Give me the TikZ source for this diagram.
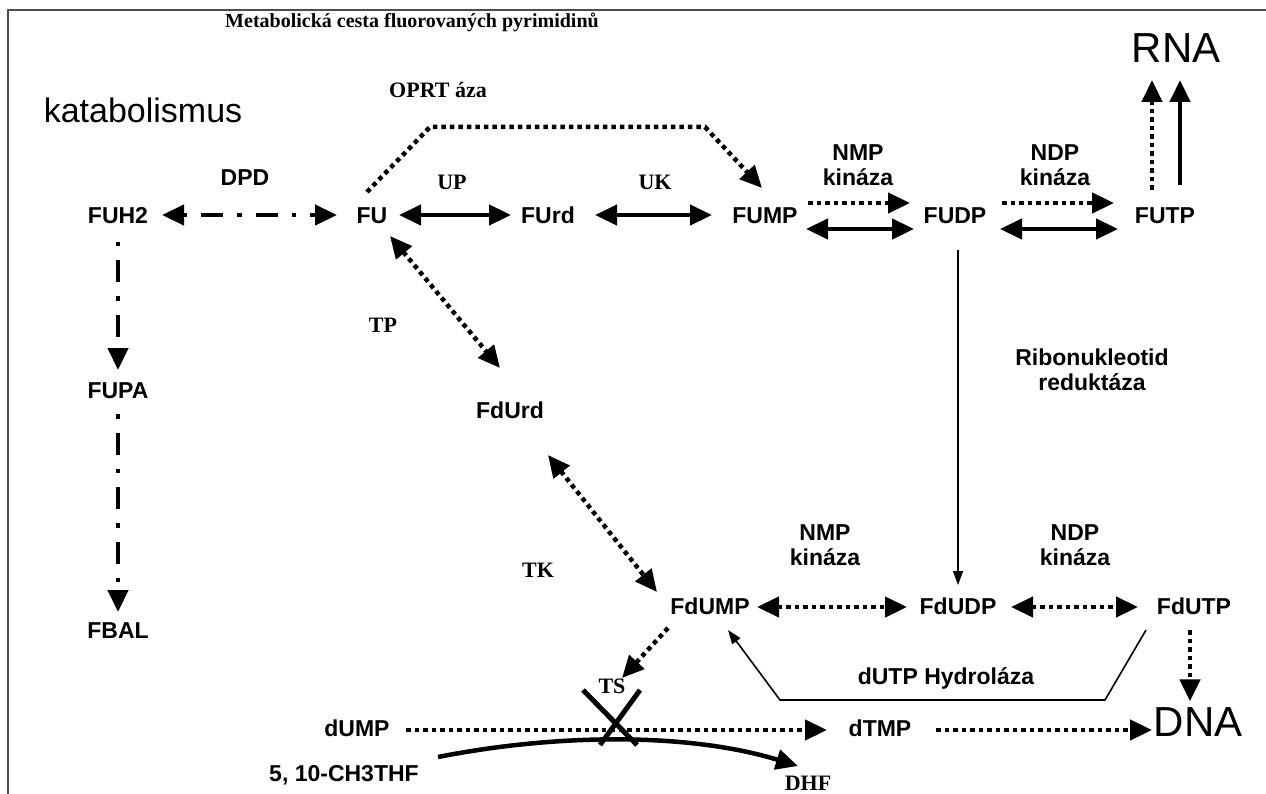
\documentclass[tikz,border=0pt]{standalone}
\usepackage{fontspec}
\setmainfont{Liberation Serif}
\newfontfamily\arialf{Liberation Sans}
\usetikzlibrary{arrows.meta}
\tikzset{
  lbl/.style={font=\arialf\bfseries\fontsize{23}{25}\selectfont, inner sep=1pt, align=center},
  cpd/.style={font=\arialf\bfseries\fontsize{23}{25}\selectfont, inner sep=1pt, text height=17pt, text depth=5pt},
  ser/.style={font=\bfseries\fontsize{22}{24}\selectfont, inner sep=1pt},
  big/.style={font=\arialf\fontsize{42}{44}\selectfont, inner sep=0pt},
  bigtip/.tip={Triangle[length=22pt,width=20pt]},
  smalltip/.tip={Triangle[length=14pt,width=10pt]},
  dotarr/.style={line width=4.5pt, dash pattern=on 4.5pt off 4pt},
  dasharr/.style={line width=4.5pt, dash pattern=on 4.5pt off 14pt on 22pt off 14pt},
  solid4/.style={line width=4.5pt},
  thinarr/.style={line width=1.6pt},
}
\begin{document}
\begin{tikzpicture}[x=1pt,y=-1pt]
\useasboundingbox (0,0) rectangle (1266,794);
\fill[white] (0,0) rectangle (1266,794);
\draw[black!70, line width=1.6pt] (1266,10) -- (8,10) -- (8,794);

% texts
\node[font=\bfseries\fontsize{20}{22}\selectfont] (title) at (412,22) {Metabolická cesta fluorovaných pyrimidinů};
\node[font=\arialf\fontsize{34}{37}\selectfont] (kat) at (143,110) {katabolismus};
\node[ser] (oprt) at (438,90) {OPRT áza};
\node[big] (RNA) at (1176,48) {RNA};
\node[lbl] (dpd) at (245,178) {DPD};
\node[ser] (up) at (452,182) {UP};
\node[ser] (uk) at (655,182) {UK};
\node[lbl] (nmp1) at (858,165) {NMP\\kináza};
\node[lbl] (ndp1) at (1055,165) {NDP\\kináza};
\node[ser] (tp) at (383,325) {TP};
\node[lbl] (rib) at (1092,370) {Ribonukleotid\\reduktáza};
\node[ser] (tk) at (538,570) {TK};
\node[lbl] (nmp2) at (825,545) {NMP\\kináza};
\node[lbl] (ndp2) at (1075,545) {NDP\\kináza};
\node[cpd] (hyd) at (946,678) {dUTP Hydroláza};
\node[ser] (ts) at (612,686) {TS};

% nodes
\node[cpd] (FUH2) at (118,218) {FUH2};
\node[cpd] (FU) at (372,218) {FU};
\node[cpd] (FUrd) at (548,218) {FUrd};
\node[cpd] (FUMP) at (765,218) {FUMP};
\node[cpd] (FUDP) at (955,218) {FUDP};
\node[cpd] (FUTP) at (1165,218) {FUTP};
\node[cpd] (FUPA) at (118,392) {FUPA};
\node[cpd] (FBAL) at (118,632) {FBAL};
\node[cpd] (FdUrd) at (510,412) {FdUrd};
\node[cpd] (FdUMP) at (710,608) {FdUMP};
\node[cpd] (FdUDP) at (958,608) {FdUDP};
\node[cpd] (FdUTP) at (1194,608) {FdUTP};
\node[cpd] (dUMP) at (357,730) {dUMP};
\node[cpd] (dTMP) at (880,730) {dTMP};
\node[big] (DNA) at (1198,722) {DNA};
\node[cpd] (THF) at (344,775) {5, 10-CH3THF};
\node[ser] (DHF) at (808,783) {DHF};

% catabolism
\draw[dasharr, bigtip-bigtip] ([shift={(44,-3)}]FUH2.center) -- ([shift={(-35,-3)}]FU.center);
\draw[dasharr, -bigtip] ([shift={(0,24)}]FUH2.center) -- ([shift={(0,-22)}]FUPA.center);
\draw[dasharr, -bigtip] ([shift={(0,22)}]FUPA.center) -- ([shift={(0,-20)}]FBAL.center);

% main row
\draw[solid4, bigtip-bigtip] ([shift={(27,-3)}]FU.center) -- ([shift={(-37,-3)}]FUrd.center);
\draw[solid4, bigtip-bigtip] ([shift={(47,-3)}]FUrd.center) -- ([shift={(-53,-3)}]FUMP.center);
\draw[dotarr, -bigtip] ([shift={(43,-15)}]FUMP.center) -- ([shift={(-45,-15)}]FUDP.center);
\draw[solid4, bigtip-bigtip] ([shift={(41,11)}]FUMP.center) -- ([shift={(-41,11)}]FUDP.center);
\draw[dotarr, -bigtip] ([shift={(47,-15)}]FUDP.center) -- ([shift={(-51,-15)}]FUTP.center);
\draw[solid4, bigtip-bigtip] ([shift={(45,11)}]FUDP.center) -- ([shift={(-47,11)}]FUTP.center);

% to RNA
\draw[dotarr, -bigtip] ([shift={(-13,-28)}]FUTP.center) -- ([shift={(-24,32)}]RNA.center);
\draw[solid4, -bigtip] ([shift={(15,-33)}]FUTP.center) -- ([shift={(4,32)}]RNA.center);

% OPRT
\draw[dotarr, -bigtip] ([shift={(-5,-26)}]FU.center) -- (430,127) -- (705,127) -- ([shift={(-3,-30)}]FUMP.center);

% FU - FdUrd - FdUMP
\draw[dotarr, bigtip-bigtip] ([shift={(18,18)}]FU.center) -- ([shift={(-10,-44)}]FdUrd.center);
\draw[dotarr, bigtip-bigtip] ([shift={(38,43)}]FdUrd.center) -- ([shift={(-53,-16)}]FdUMP.center);

% FUDP -> FdUDP
\draw[thinarr, -smalltip] ([shift={(3,32)}]FUDP.center) -- ([shift={(0,-23)}]FdUDP.center);

% lower row
\draw[dotarr, bigtip-bigtip] ([shift={(47,-1)}]FdUMP.center) -- ([shift={(-51,-1)}]FdUDP.center);
\draw[dotarr, bigtip-bigtip] ([shift={(53,-1)}]FdUDP.center) -- ([shift={(-56,-1)}]FdUTP.center);
\draw[thinarr, -smalltip] ([shift={(-48,22)}]FdUTP.center) -- (1105,700) -- (780,700) -- ([shift={(18,22)}]FdUMP.center);
\draw[dotarr, -bigtip] ([shift={(-4,22)}]FdUTP.center) -- ([shift={(-8,-6)}]DNA.north);
\draw[dotarr, -bigtip] ([shift={(-42,20)}]FdUMP.center) -- ([shift={(10,-8)}]ts.center);

% DNA synthesis
\draw[dotarr, -bigtip] ([shift={(49,0)}]dUMP.center) -- ([shift={(-53,0)}]dTMP.center);
\draw[dotarr, -bigtip] ([shift={(56,0)}]dTMP.center) -- ([shift={(-46,8)}]DNA.center);
\draw[solid4, -bigtip] ([shift={(94,-18)}]THF.center) .. controls (560,733) and (690,733) .. ([shift={(-10,-17)}]DHF.center);

% TS cross
\draw[line width=5pt] ([shift={(-29,4)}]ts.center) -- ([shift={(25,59)}]ts.center);
\draw[line width=5pt] ([shift={(28,4)}]ts.center) -- ([shift={(-12,59)}]ts.center);
\end{tikzpicture}
\end{document}
